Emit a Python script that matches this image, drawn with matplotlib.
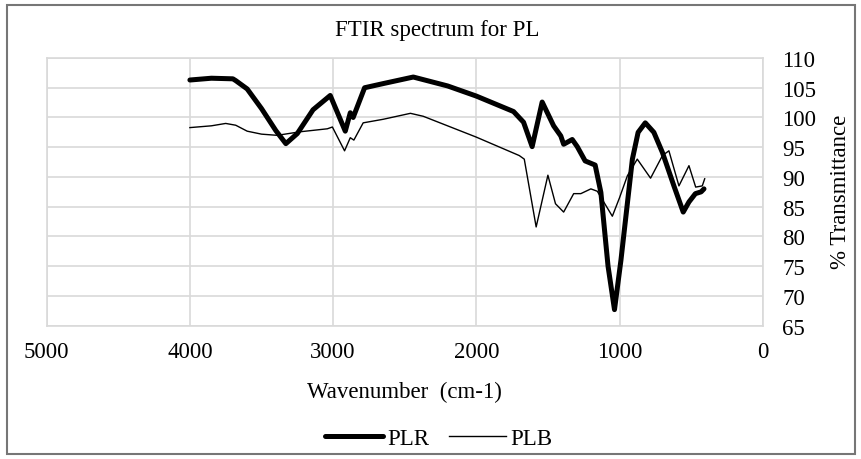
import matplotlib.pyplot as plt
from matplotlib.patches import Rectangle

plt.rcParams['font.family'] = ['Liberation Serif', 'DejaVu Serif']

# PLR (thick line)
plr_wn = [4000, 3850, 3700, 3680, 3600, 3500, 3400, 3330, 3250, 3140, 3020,
          2915, 2880, 2860, 2780, 2650, 2440, 2200, 2000, 1740, 1670, 1610,
          1540, 1460, 1410, 1390, 1330, 1295, 1240, 1170, 1130, 1080, 1035,
          990, 910, 870, 820, 760, 700, 620, 555, 515, 470, 430, 410]
plr_t = [106.3, 106.6, 106.5, 106.2, 104.8, 101.5, 97.8, 95.6, 97.3, 101.3, 103.7,
         97.7, 100.8, 100.0, 105.0, 105.7, 106.8, 105.3, 103.6, 101.0, 99.2, 95.1,
         102.6, 98.6, 96.9, 95.5, 96.3, 95.1, 92.7, 92.0, 87.4, 75.0, 67.7,
         76.0, 93.0, 97.5, 99.1, 97.5, 94.1, 88.5, 84.1, 85.8, 87.2, 87.5, 88.0]

# PLB (thin line)
plb_wn = [4000, 3850, 3750, 3680, 3600, 3500, 3390, 3230, 3040, 3005, 2920,
          2880, 2855, 2790, 2650, 2460, 2370, 2000, 1700, 1665, 1582, 1500,
          1447, 1390, 1320, 1270, 1200, 1155, 1110, 1050, 1000, 945, 876,
          783, 700, 655, 585, 515, 468, 422, 405]
plb_t = [98.3, 98.6, 99.0, 98.7, 97.7, 97.2, 97.0, 97.6, 98.1, 98.4, 94.4,
         96.6, 96.2, 99.1, 99.7, 100.7, 100.2, 96.7, 93.6, 93.0, 81.6, 90.3,
         85.5, 84.1, 87.2, 87.2, 88.0, 87.6, 85.8, 83.4, 86.5, 90.2, 93.0,
         89.8, 93.6, 94.4, 88.5, 91.9, 88.3, 88.5, 89.7]

x_ticks = [5000, 4000, 3000, 2000, 1000, 0]
y_ticks = list(range(65, 111, 5))

W, H = 861, 460
fs = 16.5

fig = plt.figure(figsize=(W / 100, H / 100), dpi=100)
ax = fig.add_axes([46.7 / W, 1 - 326.7 / H, (762.7 - 46.7) / W, (326.7 - 59) / H])

ax.plot(plr_wn, plr_t, color='black', lw=3.6, solid_joinstyle='round',
        solid_capstyle='round', label='PLR', zorder=3)
ax.plot(plb_wn, plb_t, color='black', lw=1.0, label='PLB', zorder=3)

ax.set_xlim(5000, 0)
ax.set_ylim(65, 110)
ax.set_xticks(x_ticks)
ax.set_yticks(y_ticks)
ax.yaxis.tick_right()
ax.tick_params(length=0, labelsize=fs, colors='black')
ax.tick_params(axis='x', pad=11)
ax.tick_params(axis='y', pad=14)
ax.grid(True, color='#d9d9d9', lw=1.2)
ax.set_axisbelow(True)
for s in ax.spines.values():
    s.set_color('#d9d9d9')
    s.set_linewidth(1.2)

# axis titles placed in figure pixels
fig.text(404 / W, 1 - 392 / H, 'Wavenumber  (cm-1)', ha='center', va='center', fontsize=fs)
fig.text(840 / W, 1 - 192 / H, '% Transmittance', ha='center', va='center',
         rotation=90, fontsize=fs)
fig.text(437 / W, 1 - 31 / H, 'FTIR spectrum for PL', ha='center', va='center', fontsize=fs)

fig.legend(loc='center', bbox_to_anchor=(439 / W, 1 - 439 / H), ncol=2, frameon=False,
           fontsize=fs, handlelength=2.5, handletextpad=0.2, columnspacing=0.85)

fig.patches.append(Rectangle((6.5 / W, 1 - 455 / H), 848 / W, 449 / H,
                             transform=fig.transFigure, fill=False,
                             edgecolor='#767676', lw=1.5))

fig.savefig('out.png', dpi=100)
